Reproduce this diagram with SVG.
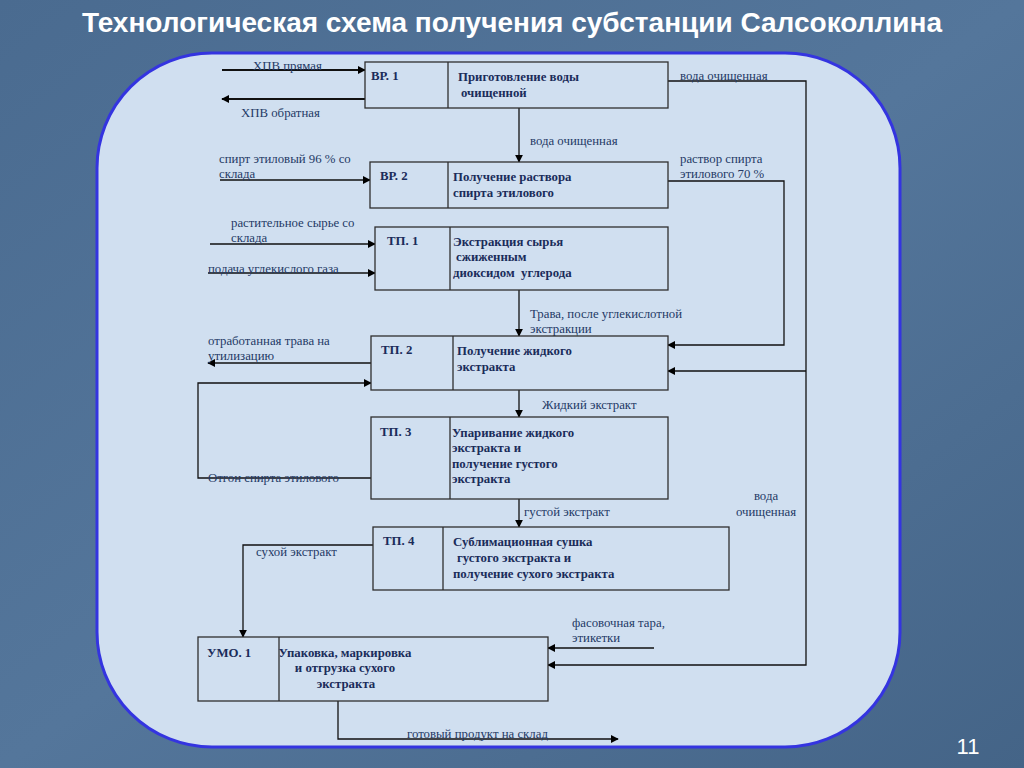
<svg xmlns="http://www.w3.org/2000/svg" width="1024" height="768" viewBox="0 0 1024 768">
<defs>
<linearGradient id="bg" x1="0" y1="0" x2="1" y2="1">
<stop offset="0" stop-color="#4a6b90"/>
<stop offset="0.5" stop-color="#54769b"/>
<stop offset="1" stop-color="#446487"/>
</linearGradient>
<marker id="ar" viewBox="0 0 10 10" refX="9" refY="5" markerWidth="8" markerHeight="8" markerUnits="userSpaceOnUse" orient="auto">
<path d="M0,0 L10,5 L0,10 z" fill="#000"/>
</marker>
<style>
.bx{fill:#d0dff0;stroke:#2e2e2e;stroke-width:1.3}
.dv{stroke:#2e2e2e;stroke-width:1.3}
.ca{fill:none;stroke:#111;stroke-width:1.3;marker-end:url(#ar)}
.cb{fill:none;stroke:#111;stroke-width:2;marker-end:url(#ar)}
.t{font-family:"Liberation Serif","Times New Roman",serif;font-size:12.8px;fill:#243a66}
.b{font-family:"Liberation Serif","Times New Roman",serif;font-size:12.8px;font-weight:bold;fill:#1a2c5a}
</style>
</defs>
<rect x="0" y="0" width="1024" height="768" fill="url(#bg)"/>
<text x="512" y="32" text-anchor="middle" font-family="Liberation Sans, Arial, sans-serif" font-size="28" font-weight="bold" fill="#ffffff">Технологическая схема получения субстанции Салсоколлина</text>
<rect x="97" y="53" width="803" height="694" rx="115" ry="115" fill="#d0dff0" stroke="#3434e0" stroke-width="3"/>
<text x="968" y="754" text-anchor="middle" font-family="Liberation Sans, Arial, sans-serif" font-size="22" fill="#ffffff">11</text>

<g id="connectors">
<path class="cb" d="M222,70 H365"/>
<path class="cb" d="M365,99 H222"/>
<path class="ca" d="M519,108 V162"/>
<path class="ca" d="M220,180 H370"/>
<path class="ca" d="M668,181 H784 V345 H668"/>
<path class="ca" d="M668,81 H806 V665 H548"/>
<path class="ca" d="M806,371 H668"/>
<path class="ca" d="M210,244 H375"/>
<path class="ca" d="M208,273 H375"/>
<path class="ca" d="M519,290 V336"/>
<path class="ca" d="M371,363 H208"/>
<path class="ca" d="M371,478 H198 V383 H371"/>
<path class="ca" d="M519,390 V417"/>
<path class="ca" d="M519,499 V527"/>
<path class="ca" d="M373,545 H243 V637"/>
<path class="ca" d="M654,648 H548"/>
<path class="ca" d="M338,701 V739 H618"/>
<text class="t" x="253" y="70">ХПВ прямая</text>
<text class="t" x="241" y="117">ХПВ обратная</text>
<text class="t" x="530" y="145">вода очищенная</text>
<text class="t" x="680" y="80">вода очищенная</text>
<text class="t" x="219" y="163">спирт этиловый 96 % со</text>
<text class="t" x="219" y="178">склада</text>
<text class="t" x="680" y="163">раствор спирта</text>
<text class="t" x="680" y="178">этилового 70 %</text>
<text class="t" x="231" y="227">растительное сырье со</text>
<text class="t" x="231" y="242">склада</text>
<text class="t" x="208" y="273">подача углекислого газа</text>
<text class="t" x="530" y="318">Трава, после углекислотной</text>
<text class="t" x="530" y="333">экстракции</text>
<text class="t" x="208" y="345">отработанная трава на</text>
<text class="t" x="208" y="360">утилизацию</text>
<text class="t" x="542" y="409">Жидкий экстракт</text>
<text class="t" x="208" y="482">Отгон спирта этилового</text>
<text class="t" x="524" y="516">густой экстракт</text>
<text class="t" x="766" y="500" text-anchor="middle">вода</text>
<text class="t" x="766" y="516" text-anchor="middle">очищенная</text>
<text class="t" x="256" y="556">сухой экстракт</text>
<text class="t" x="572" y="627">фасовочная тара,</text>
<text class="t" x="572" y="642">этикетки</text>
<text class="t" x="407" y="738">готовый продукт на склад</text>
</g>

<g id="bp1">
<rect class="bx" x="365" y="62" width="303" height="46"/>
<line class="dv" x1="448" y1="62" x2="448" y2="108"/>
<text class="b" x="371" y="80">ВР. 1</text>
<text class="b" x="458" y="81">Приготовление воды</text>
<text class="b" x="461" y="97">очищенной</text>
</g>
<g id="bp2">
<rect class="bx" x="370" y="162" width="298" height="46"/>
<line class="dv" x1="448" y1="162" x2="448" y2="208"/>
<text class="b" x="380" y="180">ВР. 2</text>
<text class="b" x="453" y="181">Получение раствора</text>
<text class="b" x="453" y="197">спирта этилового</text>
</g>
<g id="tp1">
<rect class="bx" x="375" y="227" width="293" height="63"/>
<line class="dv" x1="450" y1="227" x2="450" y2="290"/>
<text class="b" x="387" y="245">ТП. 1</text>
<text class="b" x="453" y="246">Экстракция сырья</text>
<text class="b" x="456" y="261">сжиженным</text>
<text class="b" x="453" y="277" xml:space="preserve">диоксидом  углерода</text>
</g>
<g id="tp2">
<rect class="bx" x="371" y="336" width="297" height="54"/>
<line class="dv" x1="453" y1="336" x2="453" y2="390"/>
<text class="b" x="381" y="354">ТП. 2</text>
<text class="b" x="457" y="355">Получение жидкого</text>
<text class="b" x="457" y="371">экстракта</text>
</g>
<g id="tp3">
<rect class="bx" x="371" y="417" width="297" height="82"/>
<line class="dv" x1="450" y1="417" x2="450" y2="499"/>
<text class="b" x="380" y="436">ТП. 3</text>
<text class="b" x="452" y="437">Упаривание жидкого</text>
<text class="b" x="452" y="452">экстракта и</text>
<text class="b" x="452" y="468">получение густого</text>
<text class="b" x="452" y="483">экстракта</text>
</g>
<g id="tp4">
<rect class="bx" x="373" y="527" width="356" height="63"/>
<line class="dv" x1="443" y1="527" x2="443" y2="590"/>
<text class="b" x="383" y="545">ТП. 4</text>
<text class="b" x="453" y="546">Сублимационная сушка</text>
<text class="b" x="457" y="562">густого экстракта и</text>
<text class="b" x="453" y="578">получение сухого экстракта</text>
</g>
<g id="umo1">
<rect class="bx" x="198" y="637" width="350" height="64"/>
<line class="dv" x1="279" y1="637" x2="279" y2="701"/>
<text class="b" x="207" y="657">УМО. 1</text>
<text class="b" x="345" y="657" text-anchor="middle">Упаковка, маркировка</text>
<text class="b" x="345" y="672" text-anchor="middle">и отгрузка сухого</text>
<text class="b" x="346" y="688" text-anchor="middle">экстракта</text>
</g>
</svg>
